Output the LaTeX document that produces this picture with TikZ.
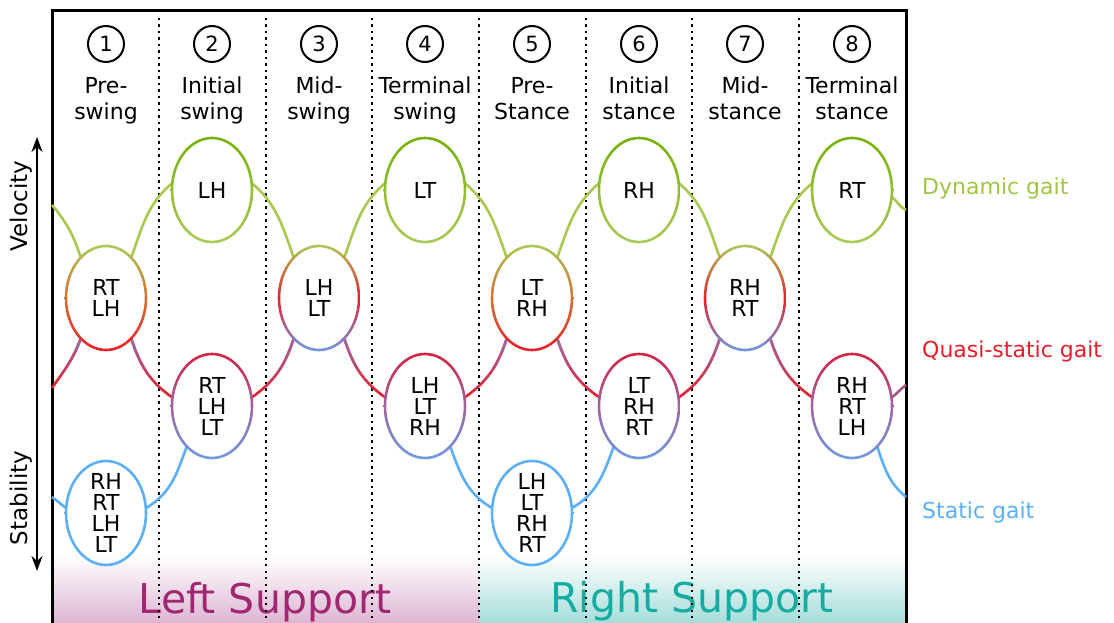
\documentclass[tikz,border=0pt]{standalone}
\usepackage{fontspec}
\setmainfont{DejaVu Sans}
\usetikzlibrary{fadings,arrows.meta,shapes.geometric}

\definecolor{dynline}{RGB}{168,200,80}
\definecolor{dyntop}{RGB}{118,176,8}
\definecolor{dynbot}{RGB}{172,202,88}
\definecolor{qsred}{RGB}{232,30,42}
\definecolor{qstop}{RGB}{212,35,65}
\definecolor{qsmix}{RGB}{150,110,170}
\definecolor{qsmid}{RGB}{160,100,160}
\definecolor{qsblue}{RGB}{110,155,228}
\definecolor{orng}{RGB}{215,112,50}
\definecolor{stblue}{RGB}{92,175,245}
\definecolor{lsup}{RGB}{160,40,112}
\definecolor{rsup}{RGB}{22,172,162}
\definecolor{lpink}{RGB}{222,182,212}
\definecolor{rteal}{RGB}{166,222,218}
\definecolor{qsedge}{RGB}{165,85,130}

\newcommand\ringshade[4]{%
  \shade[top color=#2, bottom color=#4, middle color=#3, even odd rule]
    (#1.center) ellipse [x radius=41.3, y radius=53.3]
    (#1.center) ellipse [x radius=38.7, y radius=50.7];}
\newcommand\qsconn[1]{%
  \draw[conn, draw=qsred] #1;
  \draw[conn, draw=qsmix, path fading=south] #1;}

\begin{document}
\begin{tikzpicture}[x=1pt,y=1pt,
  ell/.style={ellipse, minimum width=80, minimum height=104, inner sep=0pt, outer sep=0pt},
  etxt/.style={align=center, font=\fontsize{22}{21}\selectfont, inner sep=0pt},
  hdr/.style={align=center, font=\fontsize{22}{25.5}\selectfont, inner sep=0pt, anchor=north},
  numc/.style={circle, draw, line width=2, minimum size=36, inner sep=0pt, font=\fontsize{21}{24}\selectfont},
  conn/.style={line width=2.6},
  dotline/.style={line width=2.2, dash pattern=on 2.2 off 4.3},
  side/.style={anchor=base west, font=\fontsize{22}{24}\selectfont, inner sep=0pt},
  axlbl/.style={rotate=90, font=\fontsize{23}{24}\selectfont, inner sep=0pt},
  sup/.style={anchor=base, font=\fontsize{41}{44}\selectfont, inner sep=0pt}
]
\useasboundingbox (0,0) rectangle (1114,622);

% bottom support shading
\shade[top color=white, bottom color=lpink] (52,0) rectangle (479,66);
\shade[top color=white, bottom color=rteal] (479,0) rectangle (906,66);
\node[sup, text=lsup] (lsupport) at (265,9) {Left Support};
\node[sup, text=rsup] (rsupport) at (692,10) {Right Support};

% dotted column separators
\foreach \x in {159,266,372,479,586,692,799}
  \draw[dotline] (\x,604) -- (\x,0);

% frame
\draw[line width=3] (52,-5) -- (52,611) -- (906,611) -- (906,-5);

% headers
\node[numc] (n1) at (106,578) {1};
\node[numc] (n2) at (212,578) {2};
\node[numc] (n3) at (319,578) {3};
\node[numc] (n4) at (425,578) {4};
\node[numc] (n5) at (532,578) {5};
\node[numc] (n6) at (639,578) {6};
\node[numc] (n7) at (745,578) {7};
\node[numc] (n8) at (852,578) {8};
\node[hdr] (h1) at (106,546.5) {\strut Pre-\\\strut swing};
\node[hdr] (h2) at (212,546.5) {\strut Initial\\\strut swing};
\node[hdr] (h3) at (319,546.5) {\strut Mid-\\\strut swing};
\node[hdr] (h4) at (425,546.5) {\strut Terminal\\\strut swing};
\node[hdr] (h5) at (532,546.5) {\strut Pre-\\\strut Stance};
\node[hdr] (h6) at (639,546.5) {\strut Initial\\\strut stance};
\node[hdr] (h7) at (745,546.5) {\strut Mid-\\\strut stance};
\node[hdr] (h8) at (852,546.5) {\strut Terminal\\\strut stance};

% ellipse nodes
\node[ell] (t2) at (212,432) {};
\node[ell] (t4) at (425,432) {};
\node[ell] (t6) at (639,432) {};
\node[ell] (t8) at (852,432) {};
\node[ell] (u1) at (106,324) {};
\node[ell] (u3) at (319,324) {};
\node[ell] (u5) at (532,324) {};
\node[ell] (u7) at (745,324) {};
\node[ell] (l2) at (212,216) {};
\node[ell] (l4) at (425,216) {};
\node[ell] (l6) at (639,216) {};
\node[ell] (l8) at (852,216) {};
\node[ell] (b1) at (106,109) {};
\node[ell] (b5) at (532,109) {};

% edge coordinates
\coordinate (dynL) at (52,417);
\coordinate (dynR) at (906,412);
\coordinate (qsL) at (52,234);
\coordinate (qsR) at (906,237);
\coordinate (stL) at (52,125);
\coordinate (stR) at (906,125);

% dynamic gait connectors
\draw[conn, draw=dynline] (dynL) to[out=-50,in=108] (u1.122);
\foreach \u/\t in {u1/t2,u3/t4,u5/t6,u7/t8}
  \draw[conn, draw=dynline] (\u.58) to[out=70,in=-140] (\t.170);
\foreach \t/\u in {t2/u3,t4/u5,t6/u7}
  \draw[conn, draw=dynline] (\t.10) to[out=-40,in=110] (\u.122);
\draw[conn, draw=dynline] (t8.350) to[out=-35,in=155] (dynR);

% quasi-static connectors
\qsconn{(qsL) to[out=55,in=-110] (u1.238)}
\qsconn{(u1.302) to[out=-72,in=145] (l2.168)}
\qsconn{(l2.12) to[out=35,in=-108] (u3.238)}
\qsconn{(u3.302) to[out=-72,in=145] (l4.168)}
\qsconn{(l4.12) to[out=35,in=-108] (u5.238)}
\qsconn{(u5.302) to[out=-72,in=145] (l6.168)}
\qsconn{(l6.12) to[out=35,in=-108] (u7.238)}
\qsconn{(u7.302) to[out=-72,in=145] (l8.168)}
\draw[conn, draw=qsedge] (l8.12) to[out=35,in=-145] (qsR);

% static connectors
\draw[conn, draw=stblue] (stL) to[out=-36,in=144] (b1.173);
\draw[conn, draw=stblue] (b1.7) to[out=30,in=-110] (l2.238);
\draw[conn, draw=stblue] (l4.302) to[out=-70,in=150] (b5.173);
\draw[conn, draw=stblue] (b5.7) to[out=30,in=-110] (l6.238);
\draw[conn, draw=stblue] (l8.302) to[out=-72,in=140] (stR);

% ellipse rings
\foreach \n in {t2,t4,t6,t8}{\ringshade{\n}{dyntop}{dyntop!50!dynbot}{dynbot}}
\ringshade{u1}{dynbot}{orng}{qsred}
\ringshade{u5}{dynbot}{orng}{qsred}
\ringshade{u3}{dynbot}{qsred}{qsblue}
\ringshade{u7}{dynbot}{qsred}{qsblue}
\foreach \n in {l2,l4,l6,l8}{\ringshade{\n}{qstop}{qsmid}{qsblue}}
\ringshade{b1}{stblue}{stblue}{stblue}
\ringshade{b5}{stblue}{stblue}{stblue}

% ellipse texts
\node[etxt] at (t2) {LH};
\node[etxt] at (t4) {LT};
\node[etxt] at (t6) {RH};
\node[etxt] at (t8) {RT};
\node[etxt] at (u1) {RT\\LH};
\node[etxt] at (u3) {LH\\LT};
\node[etxt] at (u5) {LT\\RH};
\node[etxt] at (u7) {RH\\RT};
\node[etxt] at (l2) {RT\\LH\\LT};
\node[etxt] at (l4) {LH\\LT\\RH};
\node[etxt] at (l6) {LT\\RH\\RT};
\node[etxt] at (l8) {RH\\RT\\LH};
\node[etxt] at (b1) {RH\\RT\\LH\\LT};
\node[etxt] at (b5) {LH\\LT\\RH\\RT};

% side labels
\node[side, text=dynline!85!dyntop] (ldyn) at (922,427) {Dynamic gait};
\node[side, text=qsred] (lqs) at (922,265) {Quasi-static gait};
\node[side, text=stblue] (lst) at (922,104) {Static gait};

% axis
\coordinate (axtop) at (37,485);
\coordinate (axbot) at (37,51);
\draw[line width=1.6, {Stealth[length=15,width=11]}-{Stealth[length=15,width=11]}] (axbot) -- (axtop);
\node[axlbl] (vel) at (21,416) {Velocity};
\node[axlbl] (stab) at (21,124) {Stability};
\end{tikzpicture}
\end{document}
